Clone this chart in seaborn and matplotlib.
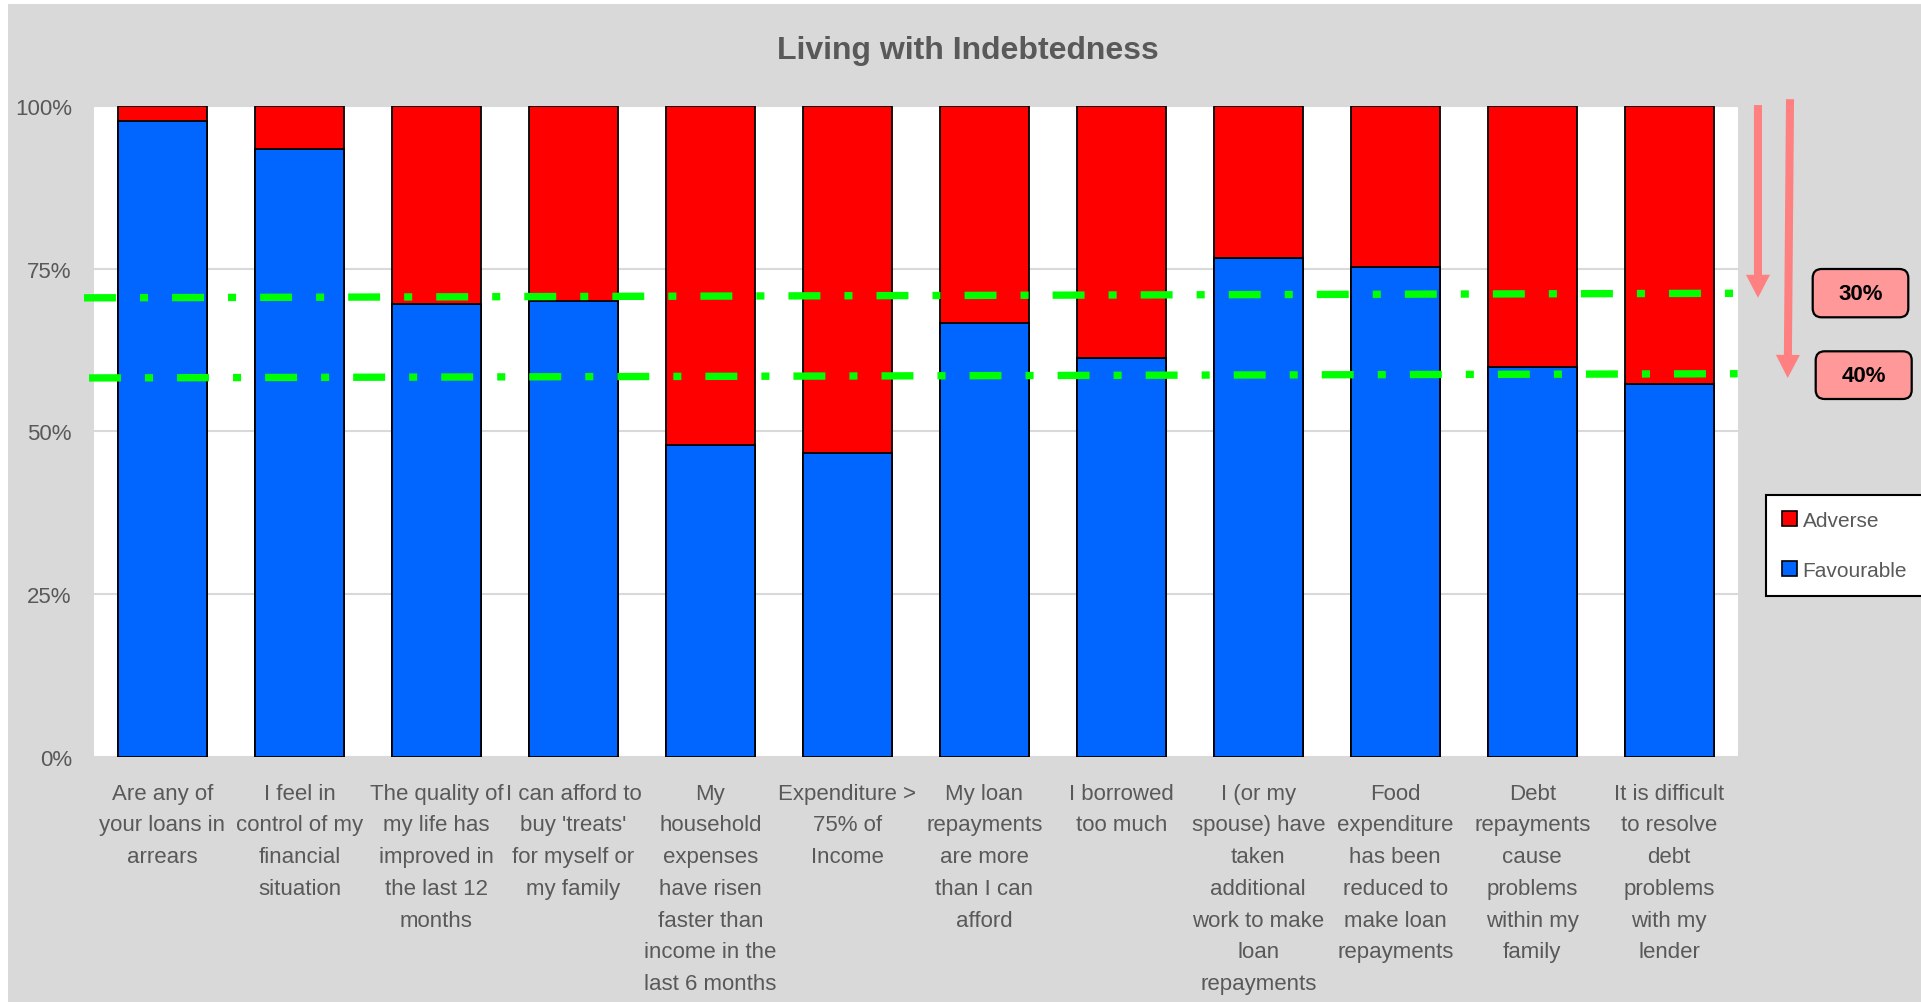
import matplotlib
matplotlib.use("Agg")
import matplotlib.pyplot as plt
import seaborn as sns
import pandas as pd
from matplotlib.patches import Patch, FancyBboxPatch, Rectangle
from matplotlib.transforms import IdentityTransform

# ---- data ----
categories = [
    "Are any of\nyour loans in\narrears",
    "I feel in\ncontrol of my\nfinancial\nsituation",
    "The quality of\nmy life has\nimproved in\nthe last 12\nmonths",
    "I can afford to\nbuy 'treats'\nfor myself or\nmy family",
    "My\nhousehold\nexpenses\nhave risen\nfaster than\nincome in the\nlast 6 months",
    "Expenditure >\n75% of\nIncome",
    "My loan\nrepayments\nare more\nthan I can\nafford",
    "I borrowed\ntoo much",
    "I (or my\nspouse) have\ntaken\nadditional\nwork to make\nloan\nrepayments",
    "Food\nexpenditure\nhas been\nreduced to\nmake loan\nrepayments",
    "Debt\nrepayments\ncause\nproblems\nwithin my\nfamily",
    "It is difficult\nto resolve\ndebt\nproblems\nwith my\nlender",
]
favourable = [97.7, 93.4, 69.6, 70.0, 47.9, 46.6, 66.6, 61.3, 76.6, 75.3, 59.9, 57.2]
adverse = [2.3, 6.6, 30.4, 30.0, 52.1, 53.4, 33.4, 38.7, 23.4, 24.7, 40.1, 42.8]
series_names = ["Adverse", "Favourable"]
y_ticks = [0, 25, 50, 75, 100]
y_tick_labels = ["0%", "25%", "50%", "75%", "100%"]
guide_upper = [70.5, 71.2]    # left / right end of the upper guide line
guide_lower = [58.2, 58.85]   # left / right end of the lower guide line
drop_labels = ["30%", "40%"]

RED = "#FF0000"
BLUE = "#0066FF"
GREY_TXT = "#595959"
BG = "#D9D9D9"
GREEN = "#00FF00"
ARROW = "#FF8080"
BOX = "#FF9999"

sns.set_theme(style="white")
plt.rcParams["font.family"] = ["Liberation Sans", "DejaVu Sans"]
plt.rcParams["lines.scale_dashes"] = False

W, H, DPI = 1921, 1003, 100
fig = plt.figure(figsize=(W / DPI, H / DPI), dpi=DPI, facecolor="white")
fig.add_artist(Rectangle((8 / W, 0), 1 - 8 / W, 1 - 5 / H, transform=fig.transFigure,
                         facecolor=BG, edgecolor="none", zorder=-10))

ax = fig.add_axes([94 / W, 1 - 758 / H, (1737.7 - 94) / W, (758 - 106.7) / H])
ax.set_facecolor("white")

df = pd.DataFrame({"category": categories, "Favourable": favourable, "Adverse": adverse})
df["total"] = df["Favourable"] + df["Adverse"]

bar_kw = dict(saturation=1, width=0.65, edgecolor="black", linewidth=1.3,
              errorbar=None, ax=ax, zorder=3)
sns.barplot(data=df, x="category", y="total", color=RED, **bar_kw)
sns.barplot(data=df, x="category", y="Favourable", color=BLUE, **bar_kw)

ax.set_xlim(-0.5, 11.5)
ax.set_ylim(0, 100)
ax.set_yticks(y_ticks)
ax.set_yticklabels(y_tick_labels)
ax.set_xticks(range(len(categories)))
ax.set_xticklabels(categories, linespacing=1.67)
ax.set_xlabel("")
ax.set_ylabel("")
ax.yaxis.grid(True, color=BG, linewidth=1.5)
ax.set_axisbelow(True)
for s in ax.spines.values():
    s.set_visible(False)
ax.tick_params(axis="x", length=0, labelsize=16, labelcolor=GREY_TXT, pad=18.5)
ax.tick_params(axis="y", length=0, labelsize=16, labelcolor=GREY_TXT, pad=16)

fig.text(968 / W, 1 - 51.5 / H, "Living with Indebtedness", ha="center", va="center",
         fontsize=23, fontweight="bold", color=GREY_TXT)

# dash-dot guide lines
dash = (23, 17.3, 5.8, 17.3)
ax.plot([-0.5 - 10 / 137, 11.49], guide_upper, color=GREEN, lw=5.3, dashes=dash,
        dash_capstyle="butt", clip_on=False, zorder=6)
ax.plot([-0.5 - 5 / 137, 11.5], guide_lower, color=GREEN, lw=5.3, dashes=dash,
        dash_capstyle="butt", clip_on=False, zorder=6)

# downward arrows to the guide levels
arrow_style = "simple,head_length=1.66,head_width=1.73,tail_width=0.58"
for (x0, y0, x1, y1) in [(11.648, 100.1, 11.648, guide_upper[0]),
                         (11.882, 101.0, 11.865, guide_lower[0])]:
    ax.annotate("", xy=(x1, y1), xytext=(x0, y0), xycoords="data",
                arrowprops=dict(arrowstyle=arrow_style, mutation_scale=10, fc=ARROW,
                                ec="none", lw=0, shrinkA=0, shrinkB=0),
                annotation_clip=False, zorder=6)

# labelled boxes beside the arrows (pixel positions)
boxes = [(1812.7, H - 318.3, 95.6, 48.3), (1815.7, H - 400, 96, 47.7)]
for (bx, by, bw, bh), lab in zip(boxes, drop_labels):
    fig.add_artist(FancyBboxPatch((bx, by), bw, bh,
                                  boxstyle="round,pad=0,rounding_size=9",
                                  transform=IdentityTransform(), facecolor=BOX,
                                  edgecolor="black", linewidth=1.6, zorder=5))
    fig.text(bx + bw / 2, by + bh / 2, lab, transform=IdentityTransform(),
             ha="center", va="center", fontsize=16, fontweight="bold", color="black",
             zorder=6)

handles = [Patch(facecolor=RED, edgecolor="black", linewidth=1.2),
           Patch(facecolor=BLUE, edgecolor="black", linewidth=1.2)]
leg = fig.legend(handles, series_names, loc="upper left",
                 bbox_to_anchor=(1766 / W, 1 - 496 / H), bbox_transform=fig.transFigure,
                 frameon=True, fancybox=False, edgecolor="black", facecolor="white",
                 framealpha=1, fontsize=15, labelcolor=GREY_TXT, handlelength=0.75,
                 handleheight=0.75, handletextpad=0.25, labelspacing=1.5,
                 borderpad=0.75, borderaxespad=0)
leg.get_frame().set_linewidth(1.5)

fig.savefig("out.png", dpi=DPI, facecolor=fig.get_facecolor())
